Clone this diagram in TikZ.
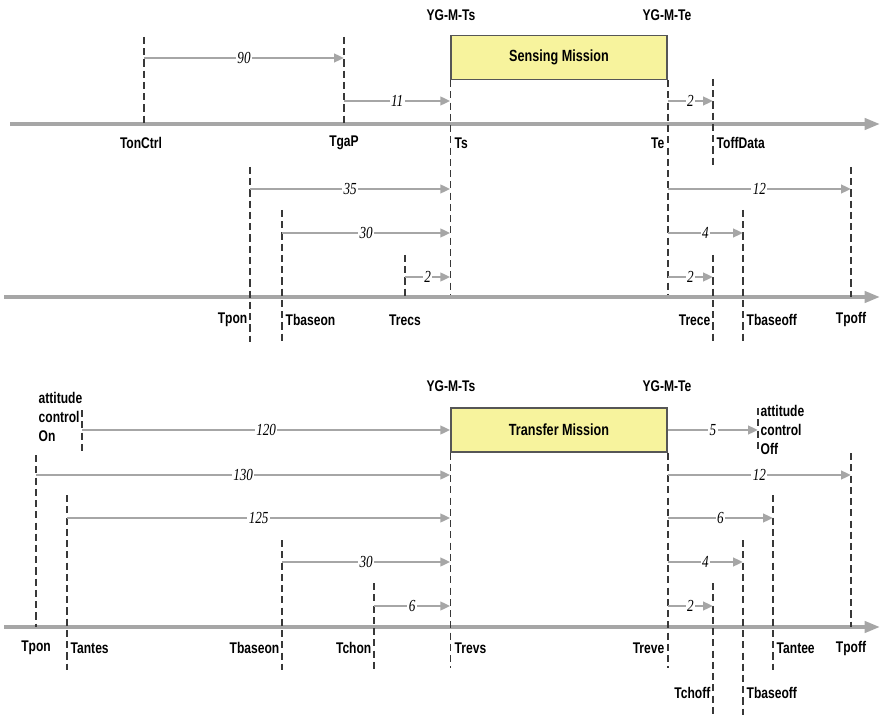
\documentclass[tikz,border=0pt]{standalone}
\usepackage{fontspec}
\setmainfont{Liberation Sans}
\newfontfamily\lblfont[FakeStretch=0.78]{Liberation Sans}
\newfontfamily\numfont[FakeStretch=0.78]{Liberation Serif}
\usetikzlibrary{arrows.meta}
\definecolor{axisgray}{HTML}{A6A6A6}
\definecolor{markgray}{HTML}{383838}
\definecolor{missionyel}{HTML}{F7F39D}

\begin{document}
\begin{tikzpicture}[x=0.025cm, y=-0.025cm,
  timeaxis/.style = {-{Triangle[length=11pt,width=8pt]}, line width=2.6pt,
                     axisgray},
  evline/.style   = {dash pattern=on 5pt off 3pt, line width=1.1pt, markgray},
  durarr/.style   = {-{Triangle[length=7pt,width=6pt]}, line width=2pt,
                     axisgray},
  dur/.style      = {fill=white, inner sep=1pt, text=black,
                     font=\numfont\itshape\fontsize{12}{12}\selectfont},
  evlbl/.style    = {inner sep=1pt, align=left,
                     font=\lblfont\bfseries\fontsize{11}{13.5}\selectfont},
  mission/.style  = {draw=markgray!85, line width=1pt, fill=missionyel,
                     minimum width=5.4cm, minimum height=1.1cm, inner sep=0pt,
                     font=\lblfont\bfseries\fontsize{11.5}{12}\selectfont},
]
\useasboundingbox (0,0) rectangle (881,715);

%% ---------- Sensing mission ----------
\node[mission] (sense) at (559,57.5) {Sensing Mission};
\node[evlbl] (sts) at (451,15) {YG-M-Ts};
\node[evlbl] (ste) at (667,15) {YG-M-Te};

\coordinate (ax1s) at (10,124);
\coordinate (ax1e) at (880,124);
\draw[timeaxis] (ax1s) -- (ax1e);

\coordinate (tonctrl) at (144,37);
\coordinate (tgap)    at (344,37);
\coordinate (toffd)   at (713,79);
\draw[evline] (tonctrl) -- (tonctrl |- ax1s);
\draw[evline] (tgap) -- (tgap |- ax1s);
\draw[evline] (toffd) -- ++(0,87);
\draw[evline] (sense.south west) -- ++(0,217);
\draw[evline] (sense.south east) -- ++(0,217);

\draw[durarr] (tonctrl |- 0,58) -- node[dur] {90} (tgap |- 0,58);
\draw[durarr] (tgap |- 0,101) -- node[dur] {11} (sense.south west |- 0,101);
\draw[durarr] (sense.south east |- 0,101) -- node[dur] {2} (toffd |- 0,101);

\node[evlbl] (ltonctrl) at (141,143) {TonCtrl};
\node[evlbl] (ltgap) at (344,143) {TgaP};
\node[evlbl, anchor=west] (lts) at (453,143) {Ts};
\node[evlbl, anchor=east] (lte) at (666,143) {Te};
\node[evlbl, anchor=west] (ltoffd) at (715,143) {ToffData};

%% ---------- sensing payload ----------
\coordinate (ax2s) at (4,297);
\coordinate (ax2e) at (880,297);
\draw[timeaxis] (ax2s) -- (ax2e);

\coordinate (tpon1)     at (250,167);
\coordinate (tbaseon1)  at (282,210);
\coordinate (trecs)     at (405,255);
\coordinate (trece)     at (713,255);
\coordinate (tbaseoff1) at (743,210);
\coordinate (tpoff1)    at (851,167);
\draw[evline] (tpon1) -- ++(0,175);
\draw[evline] (tbaseon1) -- ++(0,132);
\draw[evline] (trecs) -- (trecs |- ax2s);
\draw[evline] (trece) -- ++(0,87);
\draw[evline] (tbaseoff1) -- ++(0,132);
\draw[evline] (tpoff1) -- (tpoff1 |- ax2s);

\draw[durarr] (tpon1 |- 0,189) -- node[dur] {35} (sense.south west |- 0,189);
\draw[durarr] (tbaseon1 |- 0,233) -- node[dur] {30} (sense.south west |- 0,233);
\draw[durarr] (trecs |- 0,277) -- node[dur] {2} (sense.south west |- 0,277);
\draw[durarr] (sense.south east |- 0,189) -- node[dur] {12} (tpoff1 |- 0,189);
\draw[durarr] (sense.south east |- 0,233) -- node[dur] {4} (tbaseoff1 |- 0,233);
\draw[durarr] (sense.south east |- 0,277) -- node[dur] {2} (trece |- 0,277);

\node[evlbl, anchor=east] (ltpon1) at (249,320) {Tpon};
\node[evlbl, anchor=west] (ltbaseon1) at (284,320) {Tbaseon};
\node[evlbl] (ltrecs) at (405,320) {Trecs};
\node[evlbl, anchor=east] (ltrece) at (712,320) {Trece};
\node[evlbl, anchor=west] (ltbaseoff1) at (745,320) {Tbaseoff};
\node[evlbl] (ltpoff1) at (851,320) {Tpoff};

%% ---------- Transfer mission ----------
\node[mission] (trans) at (559,430) {Transfer Mission};
\node[evlbl] (tts) at (451,386) {YG-M-Ts};
\node[evlbl] (tte) at (667,386) {YG-M-Te};

\coordinate (ax3s) at (4,627);
\coordinate (ax3e) at (880,627);
\draw[timeaxis] (ax3s) -- (ax3e);

\coordinate (atton)    at (82,410);
\coordinate (attoff)   at (758,408);
\coordinate (tpon2)    at (36,455);
\coordinate (tantes)   at (67,495);
\coordinate (tbaseon2) at (282,540);
\coordinate (tchon)    at (374,583);
\coordinate (tchoff)   at (713,583);
\coordinate (tbaseoff2) at (743,540);
\coordinate (tantee)   at (773,495);
\coordinate (tpoff2)   at (851,453);
\draw[evline] (atton) -- ++(0,42);
\draw[evline] (attoff) -- ++(0,44);
\draw[evline] (tpon2) -- (tpon2 |- ax3s);
\draw[evline] (tantes) -- ++(0,175);
\draw[evline] (tbaseon2) -- ++(0,130);
\draw[evline] (tchon) -- ++(0,87);
\draw[evline] (trans.south west) -- ++(0,215);
\draw[evline] (trans.south east) -- ++(0,215);
\draw[evline] (tchoff) -- ++(0,132);
\draw[evline] (tbaseoff2) -- ++(0,175);
\draw[evline] (tantee) -- ++(0,175);
\draw[evline] (tpoff2) -- (tpoff2 |- ax3s);

\draw[durarr] (atton |- trans.west) -- node[dur] {120} (trans.west);
\draw[durarr] (trans.east) -- node[dur] {5} (attoff |- trans.east);
\draw[durarr] (tpon2 |- 0,475) -- node[dur] {130} (trans.south west |- 0,475);
\draw[durarr] (tantes |- 0,518) -- node[dur] {125} (trans.south west |- 0,518);
\draw[durarr] (tbaseon2 |- 0,562) -- node[dur] {30} (trans.south west |- 0,562);
\draw[durarr] (tchon |- 0,606) -- node[dur] {6} (trans.south west |- 0,606);
\draw[durarr] (trans.south east |- 0,475) -- node[dur] {12} (tpoff2 |- 0,475);
\draw[durarr] (trans.south east |- 0,518) -- node[dur] {6} (tantee |- 0,518);
\draw[durarr] (trans.south east |- 0,562) -- node[dur] {4} (tbaseoff2 |- 0,562);
\draw[durarr] (trans.south east |- 0,606) -- node[dur] {2} (tchoff |- 0,606);

\node[evlbl, anchor=north west] (latton) at (37,391) {attitude\\control\\On};
\node[evlbl, anchor=north west] (lattoff) at (759,404) {attitude\\control\\Off};
\node[evlbl] (ltpon2) at (36,648) {Tpon};
\node[evlbl, anchor=west] (ltantes) at (69,648) {Tantes};
\node[evlbl, anchor=east] (ltbaseon2) at (281,648) {Tbaseon};
\node[evlbl, anchor=east] (ltchon) at (373,648) {Tchon};
\node[evlbl, anchor=west] (ltrevs) at (453,648) {Trevs};
\node[evlbl, anchor=east] (ltreve) at (666,648) {Treve};
\node[evlbl, anchor=west] (ltantee) at (775,648) {Tantee};
\node[evlbl] (ltpoff2) at (851,648) {Tpoff};
\node[evlbl, anchor=east] (ltchoff) at (712,693) {Tchoff};
\node[evlbl, anchor=west] (ltbaseoff2) at (745,693) {Tbaseoff};

\end{tikzpicture}
\end{document}
